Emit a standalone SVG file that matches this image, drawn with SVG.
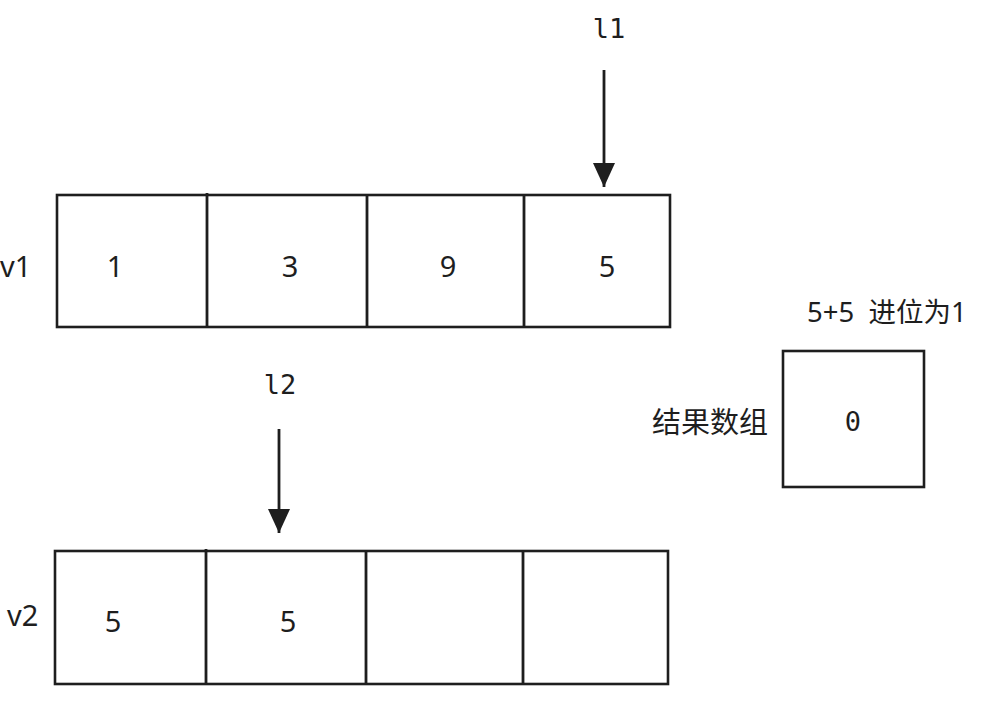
<svg xmlns="http://www.w3.org/2000/svg" width="994" height="708" viewBox="0 0 994 708">
<defs>
<style>
.box{fill:#ffffff;stroke:#1e1e1e;stroke-width:2.6}
.ln{stroke:#1e1e1e;stroke-width:2.8;fill:none}
.t{font-family:"Noto Sans","Noto Sans CJK SC",sans-serif;fill:#1e1e1e;font-size:29px}
.m{font-family:"DejaVu Sans Mono","Liberation Mono",monospace;fill:#1e1e1e}
.c{text-anchor:middle}
</style>
<marker id="ah" viewBox="0 0 24 22" refX="24" refY="11" markerWidth="24" markerHeight="22" markerUnits="userSpaceOnUse" orient="auto">
<path d="M0,0 L24,11 L0,22 Z" fill="#1e1e1e"/>
</marker>
</defs>
<rect width="994" height="708" fill="#ffffff"/>
<g id="v1">
<rect class="box" x="57" y="195" width="613" height="132"/>
<line class="ln" x1="207" y1="193" x2="207" y2="327"/>
<line class="ln" x1="367" y1="195" x2="367" y2="327"/>
<line class="ln" x1="524" y1="195" x2="524" y2="327"/>
<text class="t" x="0" y="277">v1</text>
<text class="t c" x="115" y="277">1</text>
<text class="t c" x="290" y="277">3</text>
<text class="t c" x="448" y="277">9</text>
<text class="t c" x="607" y="277">5</text>
</g>
<g id="v2">
<rect class="box" x="55" y="551" width="613" height="133"/>
<line class="ln" x1="206" y1="549" x2="206" y2="684"/>
<line class="ln" x1="366" y1="551" x2="366" y2="684"/>
<line class="ln" x1="523" y1="551" x2="523" y2="684"/>
<text class="t" x="7" y="626">v2</text>
<text class="t c" x="113" y="632">5</text>
<text class="t c" x="288" y="632">5</text>
</g>
<g id="result">
<rect class="box" x="783" y="351" width="141" height="136"/>
<text class="m c" x="853" y="431" font-size="27">0</text>
<text class="t" x="652" y="433">结果数组</text>
<text class="t" x="807" y="322" style="font-size:27.5px;white-space:pre" xml:space="preserve">5+5  进位为1</text>
</g>
<g id="l1">
<text class="m c" x="609" y="38" font-size="27">l1</text>
</g>
<g id="l2">
<text class="m c" x="280" y="394" font-size="27">l2</text>
</g>
<g id="connectors">
<line class="ln" x1="604" y1="70" x2="604" y2="187" marker-end="url(#ah)"/>
<line class="ln" x1="279" y1="429" x2="279" y2="533" marker-end="url(#ah)"/>
</g>
</svg>
